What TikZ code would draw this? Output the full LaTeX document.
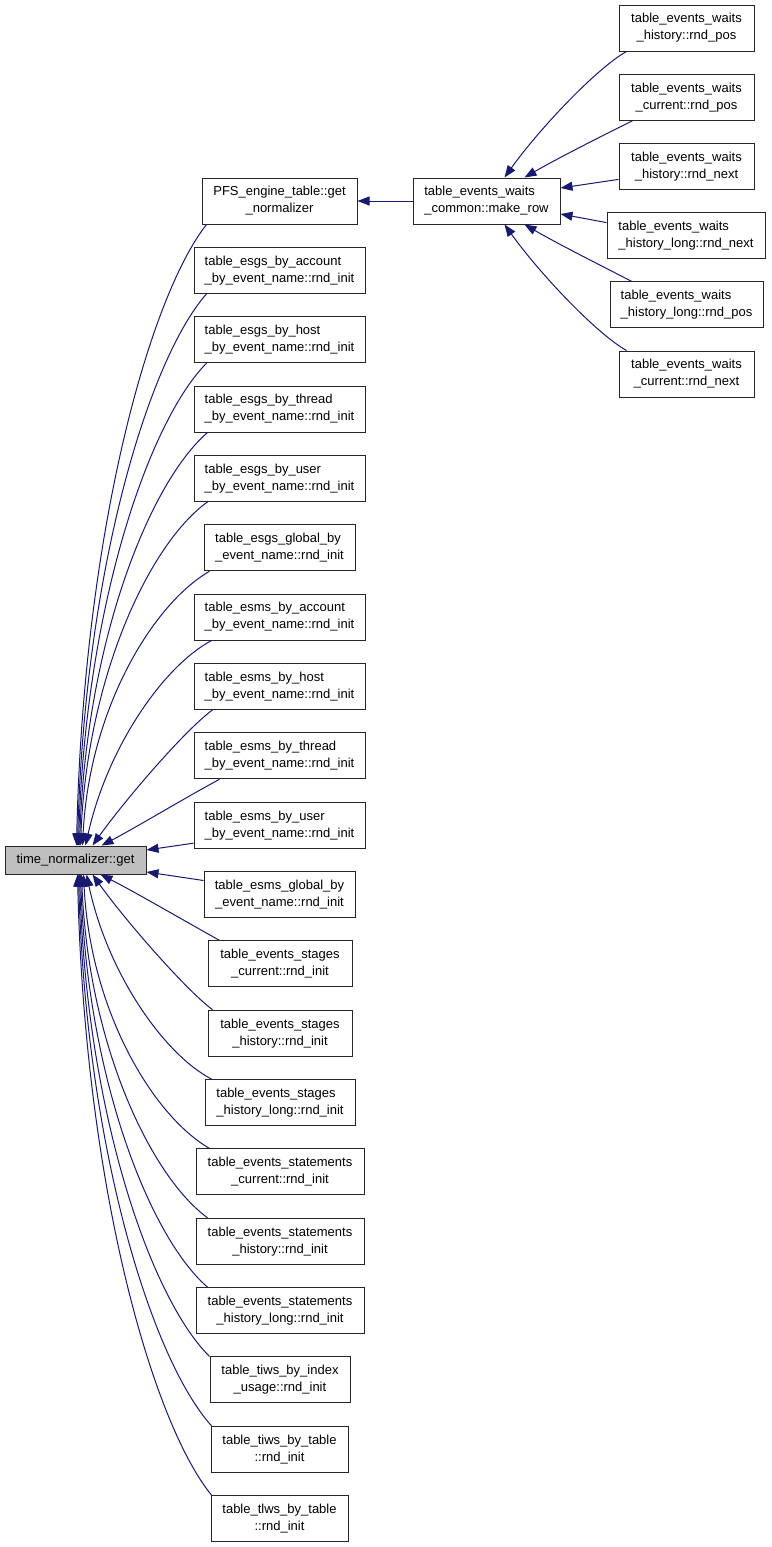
\documentclass[tikz,border=0pt]{standalone}
\usepackage{fontspec}
\setmainfont{Liberation Sans}
\usetikzlibrary{arrows.meta,calc}
\definecolor{edgecol}{HTML}{191970}
\definecolor{rootfill}{HTML}{BFBFBF}
\newcommand\lbl[2]{\setbox0=\hbox{#1}\setbox2=\hbox{#2}\ifdim\wd0<\wd2\relax\hbox to\wd2{#1\hfil}\else#1\fi\\#2}
\tikzset{
  box/.style={draw=black!85, line width=1pt, fill=white, inner sep=0pt,
    minimum height=46pt, align=center, font=\fontsize{13}{17}\selectfont},
  rootbox/.style={box, fill=rootfill, minimum height=28pt},
  edge/.style={draw=edgecol, line width=1pt, -{Triangle[length=12pt,width=9pt]}}
}
\begin{document}
\begin{tikzpicture}[x=1pt,y=-1pt]
\useasboundingbox (0,0) rectangle (771,1547);
% root
\node[rootbox, minimum width=141pt] (root) at (75.5,860) {time\_normalizer::get};
% left column
\node[box, minimum width=155pt] (pfs) at (279.5,201) {\lbl{PFS\_engine\_table::get}{\_normalizer}};
\node[box, minimum width=171pt] (esgsacct) at (279.5,270.35) {\lbl{table\_esgs\_by\_account}{\_by\_event\_name::rnd\_init}};
\node[box, minimum width=171pt] (esgshost) at (279.5,339.7) {\lbl{table\_esgs\_by\_host}{\_by\_event\_name::rnd\_init}};
\node[box, minimum width=171pt] (esgsthread) at (279.5,409.05) {\lbl{table\_esgs\_by\_thread}{\_by\_event\_name::rnd\_init}};
\node[box, minimum width=171pt] (esgsuser) at (279.5,478.4) {\lbl{table\_esgs\_by\_user}{\_by\_event\_name::rnd\_init}};
\node[box, minimum width=151pt] (esgsglobal) at (279.5,547.75) {\lbl{table\_esgs\_global\_by}{\_event\_name::rnd\_init}};
\node[box, minimum width=171pt] (esmsacct) at (279.5,617.1) {\lbl{table\_esms\_by\_account}{\_by\_event\_name::rnd\_init}};
\node[box, minimum width=171pt] (esmshost) at (279.5,686.45) {\lbl{table\_esms\_by\_host}{\_by\_event\_name::rnd\_init}};
\node[box, minimum width=171pt] (esmsthread) at (279.5,755.8) {\lbl{table\_esms\_by\_thread}{\_by\_event\_name::rnd\_init}};
\node[box, minimum width=171pt] (esmsuser) at (279.5,825.15) {\lbl{table\_esms\_by\_user}{\_by\_event\_name::rnd\_init}};
\node[box, minimum width=151pt] (esmsglobal) at (279.5,894.5) {\lbl{table\_esms\_global\_by}{\_event\_name::rnd\_init}};
\node[box, minimum width=144pt] (stagescur) at (280,963.85) {\lbl{table\_events\_stages}{\_current::rnd\_init}};
\node[box, minimum width=144pt] (stageshist) at (280,1033.2) {\lbl{table\_events\_stages}{\_history::rnd\_init}};
\node[box, minimum width=150pt] (stageslong) at (280,1102.55) {\lbl{table\_events\_stages}{\_history\_long::rnd\_init}};
\node[box, minimum width=168pt] (stmtcur) at (280,1171.9) {\lbl{table\_events\_statements}{\_current::rnd\_init}};
\node[box, minimum width=168pt] (stmthist) at (280,1241.25) {\lbl{table\_events\_statements}{\_history::rnd\_init}};
\node[box, minimum width=168pt] (stmtlong) at (280,1310.6) {\lbl{table\_events\_statements}{\_history\_long::rnd\_init}};
\node[box, minimum width=140pt] (tiwsidx) at (280,1379.95) {\lbl{table\_tiws\_by\_index}{\_usage::rnd\_init}};
\node[box, minimum width=137pt] (tiwstbl) at (279.5,1449.3) {\lbl{table\_tiws\_by\_table}{::rnd\_init}};
\node[box, minimum width=137pt] (tlwstbl) at (279.5,1518.65) {\lbl{table\_tlws\_by\_table}{::rnd\_init}};
% middle and right
\node[box, minimum width=147pt] (makerow) at (486.5,201) {\lbl{table\_events\_waits}{\_common::make\_row}};
\node[box, minimum width=135pt] (r1) at (686.5,28) {\lbl{table\_events\_waits}{\_history::rnd\_pos}};
\node[box, minimum width=135pt] (r2) at (686.5,97.2) {\lbl{table\_events\_waits}{\_current::rnd\_pos}};
\node[box, minimum width=135pt] (r3) at (686.5,166.4) {\lbl{table\_events\_waits}{\_history::rnd\_next}};
\node[box, minimum width=158pt] (r4) at (686,235.6) {\lbl{table\_events\_waits}{\_history\_long::rnd\_next}};
\node[box, minimum width=153pt] (r5) at (686.5,304.8) {\lbl{table\_events\_waits}{\_history\_long::rnd\_pos}};
\node[box, minimum width=135pt] (r6) at (686.5,374) {\lbl{table\_events\_waits}{\_current::rnd\_next}};
% right edges
\draw[edge] ($(r1.south west)+(8,0)$) .. controls (597,68) and (540,128) .. ($(makerow.north west)+(92,0)$);
\draw[edge] ($(r2.south west)+(14,0)$) .. controls (600,137) and (560,157) .. ($(makerow.north west)+(112,0)$);
\draw[edge] ($(r3.west)+(0,13)$) -- ($(makerow.east)+(0,-13)$);
\draw[edge] ($(r4.west)+(0,-13)$) -- ($(makerow.east)+(0,13)$);
\draw[edge] ($(r5.north west)+(22,0)$) .. controls (600,265) and (560,245) .. ($(makerow.south west)+(112,0)$);
\draw[edge] ($(r6.north west)+(8,0)$) .. controls (597,334) and (540,274) .. ($(makerow.south west)+(92,0)$);
\draw[edge] (makerow.west) -- (pfs.east);
% left edges (upper)
\draw[edge] ($(pfs.south west)+(5,0)$) .. controls (148.5,298.6) and (83.5,535) .. ($(root.north west)+(72,0)$);
\draw[edge] ($(esgsacct.south west)+(13,0)$) .. controls (148.9,359.4) and (84.5,569.5) .. ($(root.north west)+(73,0)$);
\draw[edge] ($(esgshost.south west)+(13,0)$) .. controls (149.4,421) and (85.4,604.5) .. ($(root.north west)+(74,0)$);
\draw[edge] ($(esgsthread.south west)+(14,0)$) .. controls (150.4,481.7) and (86.4,639) .. ($(root.north west)+(75,0)$);
\draw[edge] ($(esgsuser.south west)+(14,0)$) .. controls (150.9,542.4) and (87.4,673.5) .. ($(root.north west)+(76,0)$);
\draw[edge] ($(esgsglobal.south west)+(6,0)$) .. controls (152.9,604) and (89.4,708.5) .. ($(root.north west)+(78,0)$);
\draw[edge] ($(esmsacct.south west)+(18,0)$) .. controls (165,665) and (108,745) .. ($(root.north west)+(81,0)$);
\draw[edge] ($(esmshost.south west)+(19,0)$) .. controls (185,730) and (125,800) .. ($(root.north west)+(88,0)$);
\draw[edge] ($(esmsthread.south west)+(26,0)$) .. controls (190,795) and (135,828) .. ($(root.north west)+(97,0)$);
\draw[edge] ($(esmsuser.west)+(0,18)$) -- ($(root.east)+(0,-10)$);
\draw[edge] ($(esmsglobal.west)+(0,-14)$) -- ($(root.east)+(0,12)$);
% left edges (lower)
\draw[edge] ($(stagescur.north west)+(12,0)$) .. controls (190,924) and (135,892) .. ($(root.south west)+(96,0)$);
\draw[edge] ($(stageshist.north west)+(5,0)$) .. controls (185,989) and (125,920) .. ($(root.south west)+(88,0)$);
\draw[edge] ($(stageslong.north west)+(7,0)$) .. controls (165,1055) and (108,975) .. ($(root.south west)+(82,0)$);
\draw[edge] ($(stmtcur.north west)+(14,0)$) .. controls (153.3,1116) and (90.3,1011.5) .. ($(root.south west)+(79,0)$);
\draw[edge] ($(stmthist.north west)+(12,0)$) .. controls (151.3,1176.7) and (88.3,1046) .. ($(root.south west)+(77,0)$);
\draw[edge] ($(stmtlong.north west)+(12,0)$) .. controls (150.9,1238.3) and (87.4,1081) .. ($(root.south west)+(76,0)$);
\draw[edge] ($(tiwsidx.north west)+(0,0)$) .. controls (151.5,1299) and (86.5,1115.5) .. ($(root.south west)+(75,0)$);
\draw[edge] ($(tiwstbl.north west)+(1,0)$) .. controls (152.2,1359.8) and (85.7,1150) .. ($(root.south west)+(74,0)$);
\draw[edge] ($(tlwstbl.north west)+(1,0)$) .. controls (151.7,1421.4) and (84.7,1185) .. ($(root.south west)+(73,0)$);
\end{tikzpicture}
\end{document}
